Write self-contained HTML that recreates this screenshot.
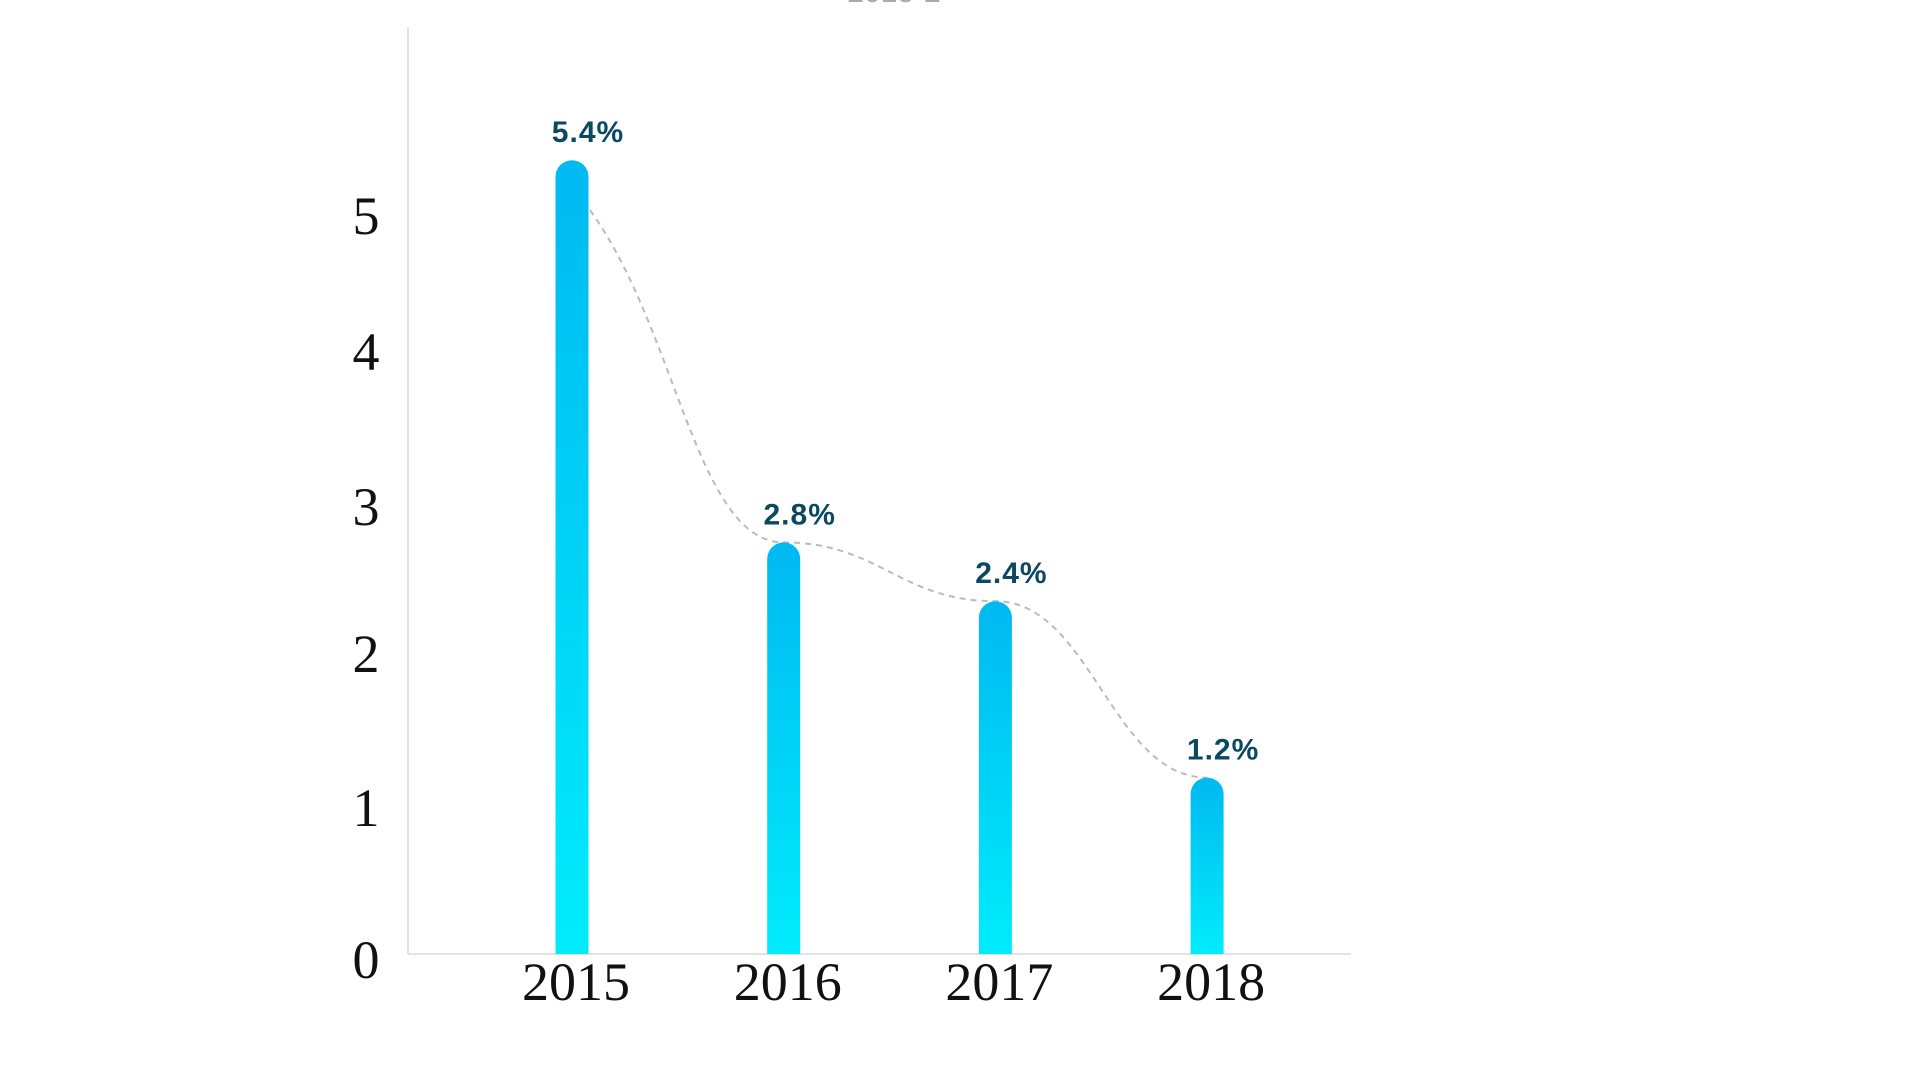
<!DOCTYPE html>
<html><head><meta charset="utf-8">
<style>
html,body{margin:0;padding:0;background:#fff;width:1920px;height:1080px;overflow:hidden}
svg{display:block}
</style></head>
<body>
<svg id="chart" width="1920" height="1080" viewBox="0 0 1920 1080">
  <defs>
    <linearGradient id="barGrad" x1="0" y1="0" x2="0" y2="1">
      <stop offset="0" stop-color="#00b9f1"/>
      <stop offset="1" stop-color="#00ecfb"/>
    </linearGradient>
  </defs>
  <text x="894" y="2" text-anchor="middle" font-family="Liberation Sans, sans-serif" font-size="30" fill="#aaa">2015-2</text>
  <line x1="408" y1="27" x2="408" y2="954" stroke="#e2e2e2" stroke-width="2"/>
  <line x1="408" y1="954" x2="1351" y2="954" stroke="#e2e2e2" stroke-width="2"/>
  <g id="yticks"></g>
  <path id="trend" fill="none" stroke="#bbb" stroke-width="2" stroke-dasharray="6,5"/>
  <g id="bars"></g>
  <g id="xlabels"></g>
</svg>
<script>
const categories = ["2015", "2016", "2017", "2018"];
const values = [5.4, 2.8, 2.4, 1.2];
const valueLabels = ["5.4%", "2.8%", "2.4%", "1.2%"];
const yTickLabels = ["0", "1", "2", "3", "4", "5"];
const yTickPos = [961, 809, 655, 508, 353, 217];

const NS = "http://www.w3.org/2000/svg";
const baseY = 954, perUnit = 147;
function yScale(v){ return baseY - v * perUnit; }
function xScale(i){ return 572 + i * 211.7; }
const barW = 33;

const yt = document.getElementById('yticks');
yTickLabels.forEach((t, i) => {
  const el = document.createElementNS(NS, 'text');
  
  
  el.setAttribute('x', 366);
  el.setAttribute('y', yTickPos[i] + 17);
  el.setAttribute('text-anchor', 'middle');
  el.setAttribute('font-family', 'Liberation Serif, serif');
  el.setAttribute('font-size', '54');
  el.setAttribute('fill', '#111');
  el.textContent = t;
  yt.appendChild(el);
});

const bars = document.getElementById('bars');
const xl = document.getElementById('xlabels');
categories.forEach((c, i) => {
  const cx = xScale(i), top = yScale(values[i]);
  const p = document.createElementNS(NS, 'path');
  
  
  const r = barW / 2;
  p.setAttribute('d', `M${cx - r},${baseY} L${cx - r},${top + r} A${r},${r} 0 0 1 ${cx + r},${top + r} L${cx + r},${baseY} Z`);
  p.setAttribute('fill', 'url(#barGrad)');
  bars.appendChild(p);

  const vl = document.createElementNS(NS, 'text');
  
  
  vl.setAttribute('x', cx + 16);
  vl.setAttribute('y', top - 18);
  vl.setAttribute('text-anchor', 'middle');
  vl.setAttribute('font-family', 'Liberation Sans, sans-serif');
  vl.setAttribute('font-weight', 'bold');
  vl.setAttribute('font-size', '30');
  vl.setAttribute('letter-spacing', '1');
  vl.setAttribute('fill', '#0b4862');
  vl.textContent = valueLabels[i];
  bars.appendChild(vl);

  const xt = document.createElementNS(NS, 'text');
  
  
  xt.setAttribute('x', cx + 4);
  xt.setAttribute('y', 1000);
  xt.setAttribute('text-anchor', 'middle');
  xt.setAttribute('font-family', 'Liberation Serif, serif');
  xt.setAttribute('font-size', '54');
  xt.setAttribute('fill', '#111');
  xt.textContent = c;
  xl.appendChild(xt);
});

// dashed trend curve through bar tops (offset right of each bar)
const pts = values.map((v, i) => [xScale(i) + (i === 0 ? 18 : 0), yScale(v) + (i === 0 ? 50 : 0)]);
let d = `M${pts[0][0]},${pts[0][1]}`;
for (let i = 0; i < pts.length - 1; i++) {
  const [x0, y0] = pts[i], [x1, y1] = pts[i + 1];
  const dx = (x1 - x0) * 0.45;
  d += ` C${x0 + dx},${y0 + (i === 0 ? 120 : 0)} ${x1 - dx},${y1} ${x1},${y1}`;
}
document.getElementById('trend').setAttribute('d', d);
</script>
</body></html>
